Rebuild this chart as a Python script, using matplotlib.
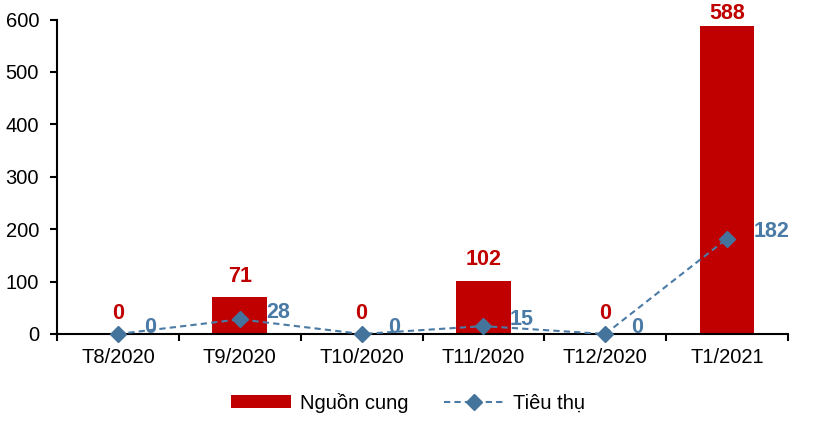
import numpy as np
from matplotlib import pyplot as plt

plt.rcParams['font.family'] = ['Liberation Sans', 'DejaVu Sans']

months = ['T8/2020', 'T9/2020', 'T10/2020', 'T11/2020', 'T12/2020', 'T1/2021']
nguon_cung = [0, 71, 0, 102, 0, 588]
tieu_thu = [0, 28, 0, 15, 0, 182]

red = '#C00000'
blue = '#4A7AA6'

fig = plt.figure(figsize=(8.4, 4.26), dpi=100)
ax = fig.add_axes([0.068, 0.216, 0.87, 0.738])
x = np.arange(len(months))
ymax = 600

bars = ax.bar(x, nguon_cung, width=0.45, color=red, label='Nguồn cung', zorder=2)
line, = ax.plot(x, tieu_thu, color=blue, linestyle='--', dashes=(3, 2), linewidth=1.5,
                marker='D', markersize=8, markerfacecolor='#44739C', markeredgecolor='#44739C',
                label='Tiêu thụ', zorder=3, clip_on=False)

for i in x:
    # like excel, the label near the top gets pushed down so it stays in the chart
    off = 11 if nguon_cung[i] < 0.9 * ymax else 5
    ax.annotate(str(nguon_cung[i]), (i, nguon_cung[i]), xytext=(0, off),
                textcoords='offset points', ha='center', va='baseline',
                color=red, fontsize=15.5, fontweight='bold', annotation_clip=False)
    ax.annotate(str(tieu_thu[i]), (i, tieu_thu[i]), xytext=(19, 5),
                textcoords='offset points', ha='left', va='center',
                color=blue, fontsize=15.5, fontweight='bold')

ax.set_xlim(-0.5, len(months) - 0.5)
ax.set_ylim(0, ymax)
ax.set_yticks(range(0, ymax + 1, 100))
ax.set_xticks(x)
ax.set_xticklabels(months)
ax.set_xticks(np.arange(-0.5, len(months), 1), minor=True)
ax.tick_params(axis='x', which='major', length=0, pad=10, labelsize=14.5)
ax.tick_params(axis='x', which='minor', length=5, width=1.5, direction='out')
ax.tick_params(axis='y', length=5, width=1.5, labelsize=14.5, pad=8)
for s in ['top', 'right']:
    ax.spines[s].set_visible(False)
for s in ['left', 'bottom']:
    ax.spines[s].set_linewidth(1.5)

ax.legend([bars, line], ['Nguồn cung', 'Tiêu thụ'], loc='upper center',
          bbox_to_anchor=(0.48, -0.13), ncol=2, frameon=False,
          fontsize=14.5, handlelength=3, columnspacing=1.8, handleheight=0.6,
          handletextpad=0.4)

fig.savefig('out.png', dpi=100)
